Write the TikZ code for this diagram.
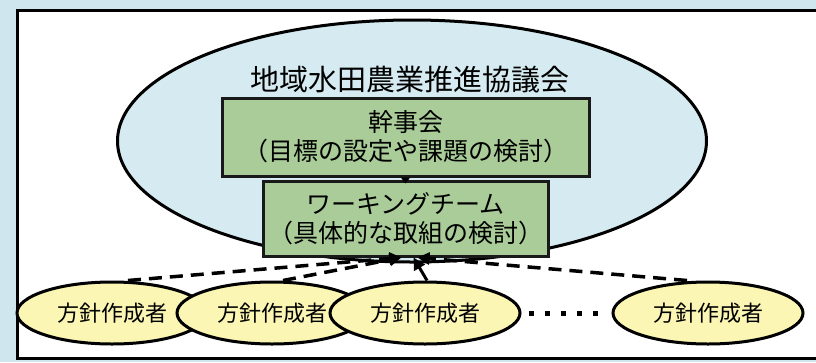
\documentclass[tikz,border=0pt]{standalone}
\usepackage{fontspec}
\setmainfont{Noto Sans CJK JP}
\usetikzlibrary{shapes.geometric,arrows.meta}
\definecolor{bgblue}{HTML}{CFE6EE}
\definecolor{ellblue}{HTML}{D5EBF1}
\definecolor{boxgreen}{HTML}{A9CC98}
\definecolor{ylw}{HTML}{FBF6B3}
\begin{document}
\begin{tikzpicture}[x=1pt,y=-1pt,
  greenbox/.style={draw=black!90, line width=3pt, fill=boxgreen, align=center, inner sep=0pt, font=\fontsize{25}{29}\selectfont},
  person/.style={ellipse, draw=black, line width=3pt, fill=ylw, minimum width=190pt, minimum height=62pt, inner sep=0pt, font=\fontsize{22}{26}\selectfont},
  dashlink/.style={line width=3.5pt, dash pattern=on 13pt off 8pt, -{Triangle[length=12pt,width=12pt]}},
  solidlink/.style={line width=3pt, -{Triangle[length=12pt,width=12pt]}},
]
\useasboundingbox (0,0) rectangle (816,362);
\fill[bgblue] (0,0) rectangle (816,362);
\begin{scope}
\clip (0,0) rectangle (816,362);
\draw[line width=3pt, fill=white] (17,10) rectangle (840,358);
\end{scope}
\node[ellipse, draw, line width=3pt, fill=ellblue, minimum width=589pt, minimum height=242pt] (council) at (412,141) {};
\node[font=\fontsize{29}{29}\selectfont] (title) at (410,80) {地域水田農業推進協議会};
\node[greenbox, minimum width=367pt, minimum height=78pt] (kanji) at (405.5,137) {幹事会\\（目標の設定や課題の検討）};
\node[greenbox, minimum width=285pt, minimum height=75pt] (wt) at (405.5,218.5) {ワーキングチーム\\（具体的な取組の検討）};
\draw[line width=1pt, shorten >=-4pt, -{Triangle[length=6pt,width=9pt]}] (kanji.south) -- (wt.north);
\node[person] (p1) at (112,313) {方針作成者};
\node[person] (p2) at (272,313) {方針作成者};
\node[person] (p3) at (425,313) {方針作成者};
\node[person] (p4) at (708,313) {方針作成者};
\draw[dashlink] ([xshift=16pt]p1.north) -- ([xshift=-4pt]wt.south);
\draw[dashlink] ([xshift=11pt]p2.north) -- ([xshift=-4pt]wt.south);
\draw[dashlink] ([xshift=-21pt]p4.north) -- ([xshift=12pt]wt.south);
\draw[solidlink] ([xshift=2pt]p3.north) -- ([xshift=8pt]wt.south);
\draw[line width=5pt, dash pattern=on 5pt off 11pt, shorten <=7pt, shorten >=4pt] (p3.east) -- (p4.west);
\end{tikzpicture}
\end{document}
